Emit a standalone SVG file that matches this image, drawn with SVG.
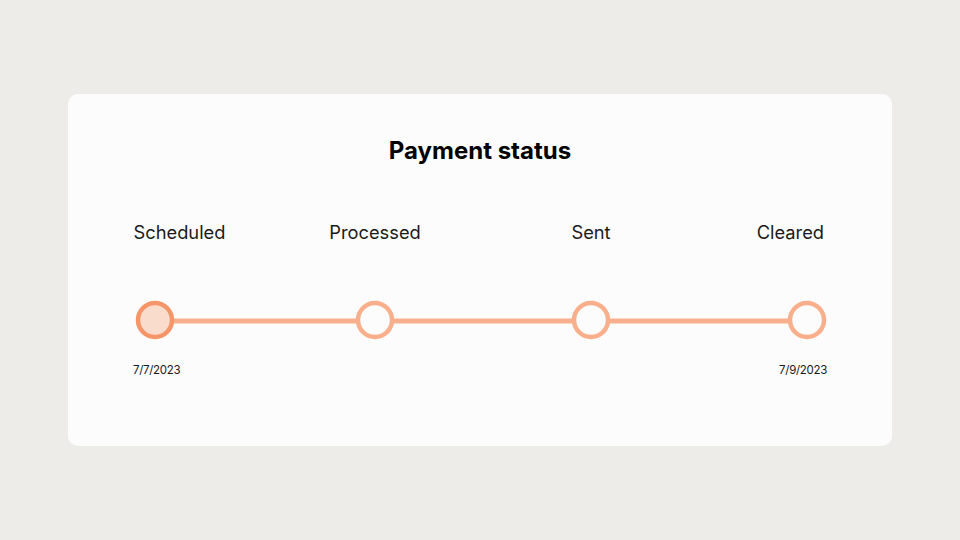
<svg xmlns="http://www.w3.org/2000/svg" width="960" height="540" viewBox="0 0 960 540">
<style>
.lbl{font-family:Inter,"Liberation Sans",sans-serif;font-size:18.3px;fill:#1a1a1a}
.date{font-family:Inter,"Liberation Sans",sans-serif;font-size:11.5px;fill:#1a1a1a;letter-spacing:-0.3px}
.title{font-family:Inter,"Liberation Sans",sans-serif;font-size:24px;font-weight:700;fill:#000}
.dot{fill:#fcfcfc;stroke:#f9af8b;stroke-width:4.5}
</style>
<rect width="960" height="540" fill="#eeece8"/>
<rect x="68" y="94" width="824" height="352" rx="10" fill="#fcfcfc"/>
<text class="title" x="480" y="159" text-anchor="middle">Payment status</text>
<g id="connectors">
<line x1="155" y1="321" x2="807" y2="321" stroke="#f9af8b" stroke-width="5"/>
</g>
<g id="scheduled">
<circle cx="155" cy="320" r="17" fill="#fadccd" stroke="#f5966a" stroke-width="4.5"/>
<text class="lbl" x="179.5" y="239" text-anchor="middle">Scheduled</text>
<text class="date" x="133" y="374">7/7/2023</text>
</g>
<g id="processed">
<circle class="dot" cx="375" cy="320" r="17"/>
<text class="lbl" x="375" y="239" text-anchor="middle">Processed</text>
</g>
<g id="sent">
<circle class="dot" cx="591" cy="320" r="17"/>
<text class="lbl" x="591" y="239" text-anchor="middle">Sent</text>
</g>
<g id="cleared">
<circle class="dot" cx="807" cy="320" r="17"/>
<text class="lbl" x="824" y="239" text-anchor="end">Cleared</text>
<text class="date" x="827" y="374" text-anchor="end">7/9/2023</text>
</g>
</svg>
